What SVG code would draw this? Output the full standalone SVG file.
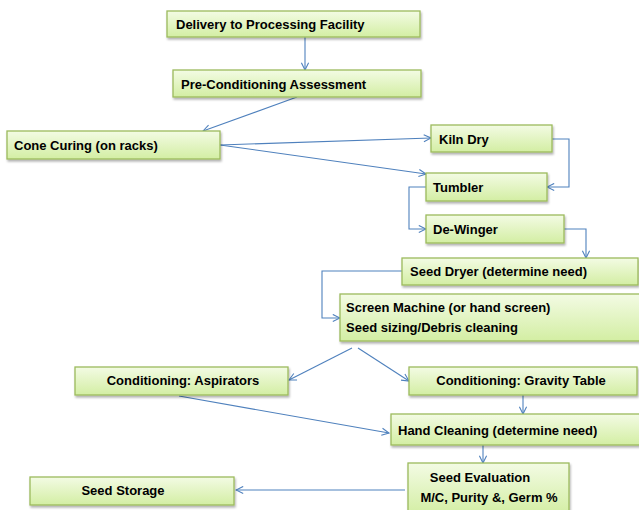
<svg xmlns="http://www.w3.org/2000/svg" width="639" height="510" viewBox="0 0 639 510">
<defs>
<linearGradient id="g" x1="0" y1="0" x2="0" y2="1">
<stop offset="0" stop-color="#f3fbe4"/>
<stop offset="1" stop-color="#d3eea3"/>
</linearGradient>
<filter id="sh" x="-5%" y="-20%" width="110%" height="150%">
<feDropShadow dx="1" dy="2" stdDeviation="1" flood-color="#000" flood-opacity="0.3"/>
</filter>
<marker id="ar" viewBox="0 0 10 10" refX="9" refY="5" markerWidth="9" markerHeight="9" markerUnits="userSpaceOnUse" orient="auto">
<path d="M1,1 L9,5 L1,9" fill="none" stroke="#4f81bd" stroke-width="1.2"/>
</marker>
</defs>
<style>
.b{fill:url(#g);stroke:#9cbb5c;stroke-width:1.3;filter:url(#sh)}
.t{font-family:"Liberation Sans",Arial,sans-serif;font-weight:bold;font-size:13px;fill:#000;dominant-baseline:central}
.m{text-anchor:middle}
.c{fill:none;stroke:#4f81bd;stroke-width:1.1;marker-end:url(#ar)}
</style>
<rect width="639" height="510" fill="#fff"/>
<g id="connectors">
<path class="c" d="M305,37 V70"/>
<path class="c" d="M297,97 L203,131"/>
<path class="c" d="M220,145 L431,138"/>
<path class="c" d="M220,145 L426,174"/>
<path class="c" d="M552,139 H569 V187 H547"/>
<path class="c" d="M426,187 H409 V229 H426"/>
<path class="c" d="M564,229 H586 V258"/>
<path class="c" d="M402,271 H322 V318 H340"/>
<path class="c" d="M352,348 L289,380"/>
<path class="c" d="M358,348 L409,381"/>
<path class="c" d="M523,395 V414"/>
<path class="c" d="M179,396 L389,433"/>
<path class="c" d="M483,445 V463"/>
<path class="c" d="M405,490 H236"/>
</g>
<g id="n1"><rect class="b" x="167" y="11" width="253" height="26"/><text class="t" x="176" y="24">Delivery to Processing Facility</text></g>
<g id="n2"><rect class="b" x="173" y="70" width="248" height="27"/><text class="t" x="181" y="84">Pre-Conditioning Assessment</text></g>
<g id="n3"><rect class="b" x="7" y="131" width="213" height="28"/><text class="t" x="14" y="145">Cone Curing (on racks)</text></g>
<g id="n4"><rect class="b" x="431" y="125" width="121" height="27"/><text class="t" x="439" y="139">Kiln Dry</text></g>
<g id="n5"><rect class="b" x="426" y="173" width="121" height="28"/><text class="t" x="433" y="187">Tumbler</text></g>
<g id="n6"><rect class="b" x="426" y="215" width="138" height="28"/><text class="t" x="433" y="229">De-Winger</text></g>
<g id="n7"><rect class="b" x="402" y="258" width="236" height="27"/><text class="t" x="410" y="271">Seed Dryer (determine need)</text></g>
<g id="n8"><rect class="b" x="340" y="294" width="305" height="47"/><text class="t" x="346" y="307">Screen Machine (or hand screen)</text><text class="t" x="346" y="327">Seed sizing/Debris cleaning</text></g>
<g id="n9"><rect class="b" x="75" y="367" width="213" height="28"/><text class="t m" x="183" y="380">Conditioning: Aspirators</text></g>
<g id="n10"><rect class="b" x="409" y="367" width="228" height="28"/><text class="t m" x="521" y="380">Conditioning: Gravity Table</text></g>
<g id="n11"><rect class="b" x="391" y="414" width="254" height="31"/><text class="t" x="398" y="430">Hand Cleaning (determine need)</text></g>
<g id="n12"><rect class="b" x="408" y="463" width="161" height="52"/><text class="t m" x="480" y="477">Seed Evaluation</text><text class="t m" x="489" y="497">M/C, Purity &amp;, Germ %</text></g>
<g id="n13"><rect class="b" x="30" y="477" width="204" height="28"/><text class="t m" x="123" y="490">Seed Storage</text></g>
</svg>
